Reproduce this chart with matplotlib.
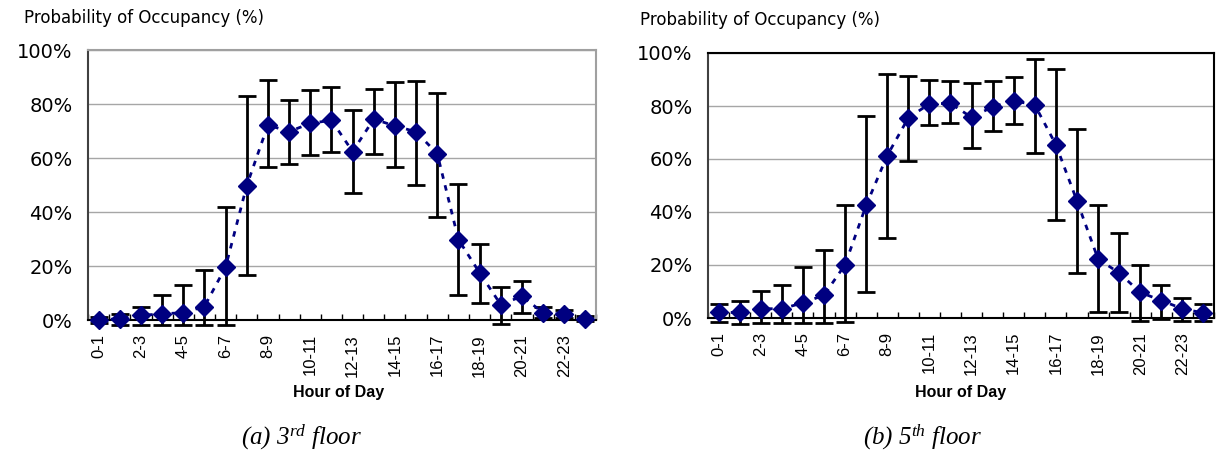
import matplotlib
matplotlib.use('Agg')
import matplotlib.pyplot as plt
import numpy as np

# Hour categories 0-1 ... 23-24
horas = [f'{h}-{h + 1}' for h in range(24)]

# 3rd floor: mean occupancy and error bar limits (%)
piso3_media = [0.0, 0.5, 1.7, 2.3, 2.7, 5.0, 19.6, 49.8, 72.2, 69.8, 72.8, 74.0,
               62.4, 74.4, 71.9, 69.7, 61.6, 29.8, 17.5, 5.7, 8.8, 2.7, 2.1, 0.5]
piso3_sup = [1.0, 2.3, 5.0, 9.2, 13.0, 18.7, 41.7, 82.9, 88.8, 81.5, 85.1, 86.3,
             77.7, 85.5, 88.0, 88.6, 84.0, 50.2, 28.3, 12.3, 14.4, 4.8, 3.6, 1.5]
piso3_inf = [-1.0, -2.0, -2.0, -2.0, -2.0, -2.0, -2.0, 16.5, 56.5, 57.8, 61.2, 62.4,
             47.1, 61.5, 56.8, 50.0, 38.2, 9.2, 6.3, -1.6, 2.7, 0.6, 0.6, -0.5]

# 5th floor
piso5_media = [2.1, 2.1, 3.5, 3.5, 5.7, 8.6, 20.1, 42.5, 61.3, 75.5, 80.8, 81.0,
               75.7, 79.7, 82.0, 80.4, 65.4, 44.2, 22.3, 17.0, 9.7, 6.6, 3.5, 1.9]
piso5_sup = [5.3, 6.5, 10.3, 12.5, 19.2, 25.5, 42.5, 76.4, 92.2, 91.4, 89.7, 89.6,
             88.6, 89.6, 91.1, 97.8, 93.8, 71.3, 42.6, 32.2, 19.9, 12.6, 7.4, 5.3]
piso5_inf = [-1.5, -2.1, -2.0, -2.0, -2.0, -2.0, -1.5, 9.7, 30.1, 59.4, 72.8, 73.6,
             64.1, 70.5, 73.1, 62.2, 37.0, 17.0, 2.1, 2.1, -1.3, -0.3, -1.0, -1.0]

AZUL = '#000080'


def graficar(ax, media, sup, inf, color_marco):
    x = np.arange(len(horas)) + 0.5
    media = np.array(media)
    err = [media - np.array(inf), np.array(sup) - media]

    ax.errorbar(x, media, yerr=err, fmt='none', ecolor='black', elinewidth=2,
                capsize=6.5, capthick=2, clip_on=False, zorder=3)
    ax.plot(x, media, color=AZUL, linestyle=(0, (2, 2.4)), linewidth=2,
            marker='D', markersize=9, markerfacecolor=AZUL, markeredgecolor=AZUL,
            clip_on=False, zorder=4)

    ax.set_xlim(0, 24)
    ax.set_ylim(0, 100)
    ax.set_yticks([0, 20, 40, 60, 80, 100])
    ax.set_yticklabels(['0%', '20%', '40%', '60%', '80%', '100%'],
                       fontsize=14, family='DejaVu Sans')
    ax.tick_params(axis='y', length=0, pad=11)

    ax.set_xticks(np.arange(25))
    ax.set_xticklabels([])
    ax.set_xticks(np.arange(0, 24, 2) + 0.5, minor=True)
    ax.set_xticklabels(horas[::2], minor=True, rotation=90, fontsize=12,
                       family='Liberation Sans', va='top', ha='center')
    ax.tick_params(axis='x', which='major', direction='in', length=4, width=1)
    ax.tick_params(axis='x', which='minor', length=0, pad=10)

    ax.grid(axis='y', color='#a6a6a6', linewidth=1)
    ax.set_axisbelow(True)

    for lado in ['top', 'right']:
        ax.spines[lado].set_color(color_marco)
        ax.spines[lado].set_linewidth(1.5)
    ax.spines['left'].set_color('#404040')
    ax.spines['left'].set_linewidth(1.5)
    ax.spines['bottom'].set_color('black')
    ax.spines['bottom'].set_linewidth(1.5)


plt.rcParams['mathtext.fontset'] = 'custom'
plt.rcParams['mathtext.rm'] = 'Liberation Serif:italic'
plt.rcParams['mathtext.it'] = 'Liberation Serif:italic'

fig = plt.figure(figsize=(12.16, 4.55), dpi=100)
ax1 = fig.add_axes([88 / 1216, 1 - 320 / 455, 508 / 1216, 270 / 455])
ax2 = fig.add_axes([708 / 1216, 1 - 318 / 455, 506 / 1216, 265 / 455])

graficar(ax1, piso3_media, piso3_sup, piso3_inf, '#a0a0a0')
graficar(ax2, piso5_media, piso5_sup, piso5_inf, 'black')

fig.text(24 / 1216, 1 - 18 / 455, 'Probability of Occupancy (%)', fontsize=12,
         family='DejaVu Sans', va='center', ha='left')
fig.text(640 / 1216, 1 - 20 / 455, 'Probability of Occupancy (%)', fontsize=12,
         family='DejaVu Sans', va='center', ha='left')

for xc in [339, 961]:
    fig.text(xc / 1216, 1 - 393 / 455, 'Hour of Day', fontsize=11.5,
             fontweight='bold', family='Liberation Sans', va='center', ha='center')

fig.text(302 / 1216, 1 - 437 / 455, r'(a) 3$^{\rm rd}$ floor', fontsize=18,
         family='Liberation Serif', style='italic', va='center', ha='center')
fig.text(923 / 1216, 1 - 437 / 455, r'(b) 5$^{\rm th}$ floor', fontsize=18,
         family='Liberation Serif', style='italic', va='center', ha='center')

fig.savefig('out.png', dpi=100)
